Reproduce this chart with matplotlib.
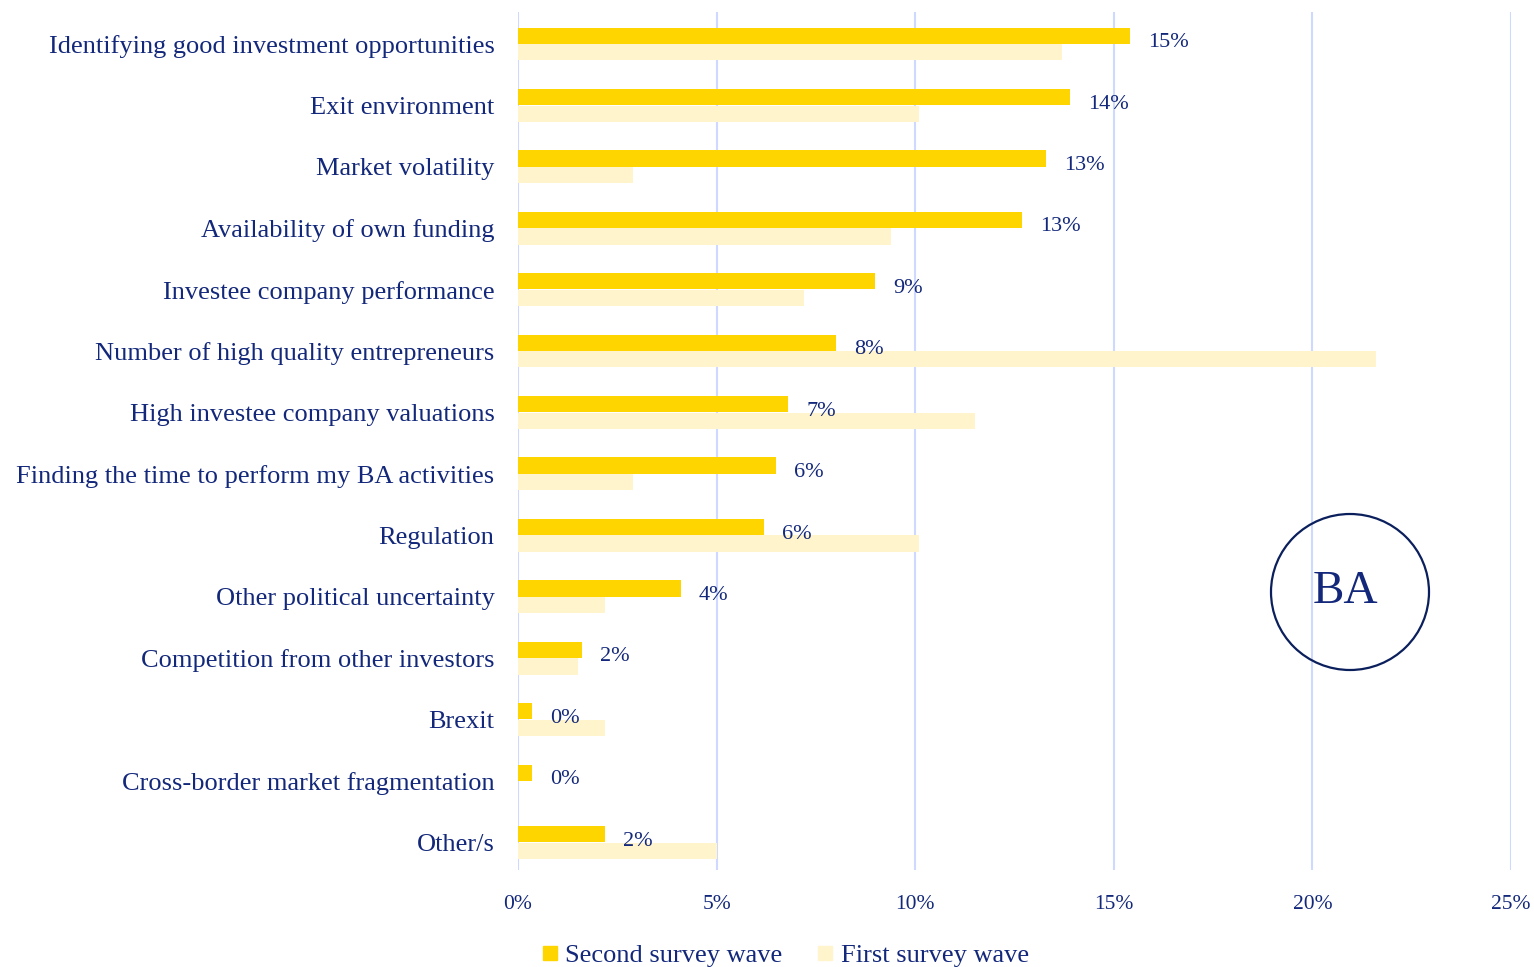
import matplotlib
matplotlib.use("Agg")
import matplotlib.pyplot as plt
from matplotlib.patches import Ellipse
from matplotlib.lines import Line2D

categories = [
    "Identifying good investment opportunities",
    "Exit environment",
    "Market volatility",
    "Availability of own funding",
    "Investee company performance",
    "Number of high quality entrepreneurs",
    "High investee company valuations",
    "Finding the time to perform my BA activities",
    "Regulation",
    "Other political uncertainty",
    "Competition from other investors",
    "Brexit",
    "Cross-border market fragmentation",
    "Other/s",
]
second_wave = [15.4, 13.9, 13.3, 12.7, 9.0, 8.0, 6.8, 6.5, 6.2, 4.1, 1.6, 0.35, 0.35, 2.2]
first_wave = [13.7, 10.1, 2.9, 9.4, 7.2, 21.6, 11.5, 2.9, 10.1, 2.2, 1.5, 2.2, 0.0, 5.0]
second_labels = ["15%", "14%", "13%", "13%", "9%", "8%", "7%", "6%", "6%", "4%", "2%", "0%", "0%", "2%"]
xticks = [0, 5, 10, 15, 20, 25]

NAVY = "#13287a"
GOLD = "#ffd500"
LIGHT = "#fff4cc"
GRID = "#cfd9ff"

plt.rcParams["font.family"] = ["Liberation Serif", "DejaVu Serif"]

fig = plt.figure(figsize=(15.34, 9.67), dpi=100)
ax = fig.add_axes([518 / 1534, 1 - 870 / 967, (1511 - 518) / 1534, (870 - 12) / 967])

pos = list(range(len(categories)))
h = 0.265
ax.barh([p - 0.135 for p in pos], second_wave, height=h, color=GOLD, zorder=3)
ax.barh([p + 0.135 for p in pos], first_wave, height=h, color=LIGHT, zorder=2)

for p, v, lab in zip(pos, second_wave, second_labels):
    ax.annotate(lab, (v, p - 0.02), xytext=(13, 0), textcoords="offset points",
                va="center", ha="left", fontsize=16, color=NAVY, zorder=4)

ax.set_xlim(0, 25)
ax.set_ylim(13.45, -0.52)
ax.set_xticks(xticks)
ax.set_xticklabels([f"{t}%" for t in xticks], fontsize=15.5, color=NAVY)
ax.set_yticks(pos)
ax.set_yticklabels(categories, fontsize=19, color=NAVY)
ax.tick_params(length=0)
ax.tick_params(axis="y", pad=17)
ax.tick_params(axis="x", pad=18)
ax.grid(axis="x", color=GRID, linewidth=1.5, zorder=0)
for s in ax.spines.values():
    s.set_visible(False)
ax.set_axisbelow(True)

fig.add_artist(Ellipse((1350 / 1534, 1 - 592 / 967), 158 / 1534, 156 / 967,
                       transform=fig.transFigure, fill=False, ec="#0a1f5c", lw=1.6))
fig.text(1345 / 1534, 1 - 592 / 967, "BA", fontsize=34, color=NAVY, ha="center", va="center")

handles = [Line2D([], [], marker="s", linestyle="none", markersize=10, color=GOLD),
           Line2D([], [], marker="s", linestyle="none", markersize=10, color=LIGHT)]
fig.legend(handles, ["Second survey wave", "First survey wave"], loc="center",
           bbox_to_anchor=(784 / 1534, 1 - 955 / 967), ncol=2, frameon=False,
           fontsize=19, labelcolor=NAVY, handletextpad=0.2, columnspacing=1.2,
           handlelength=0.8)

fig.savefig("out.png", dpi=100)
